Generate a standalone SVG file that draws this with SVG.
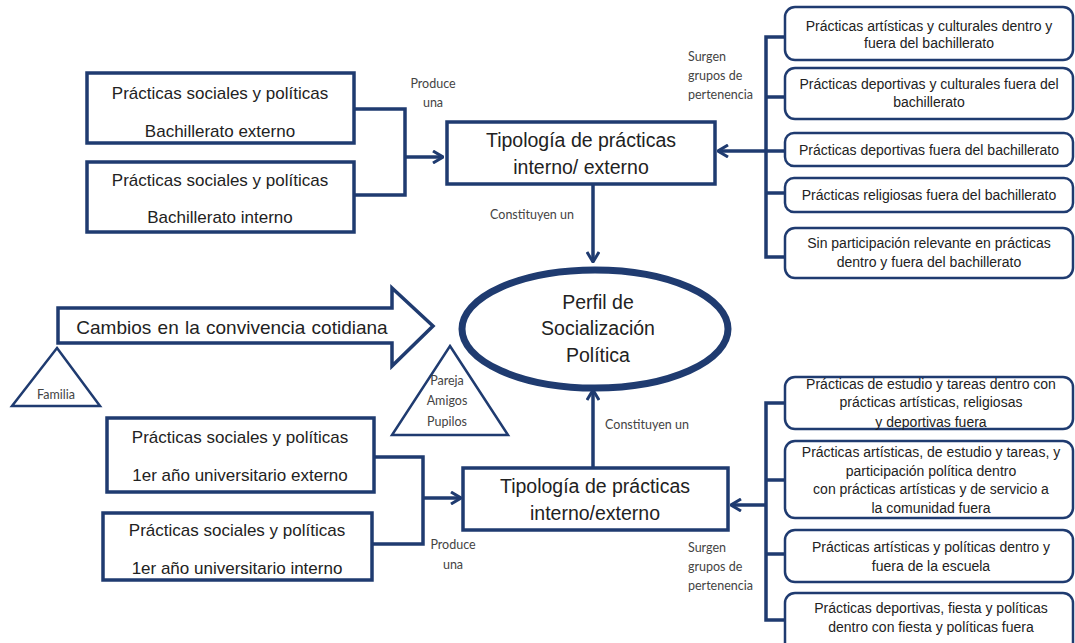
<svg xmlns="http://www.w3.org/2000/svg" width="1075" height="643" viewBox="0 0 1075 643">
<style>
.box{fill:#fff;stroke:#1f3b70;stroke-width:3.5}
.rbox{fill:#fff;stroke:#1f3b70;stroke-width:2.5}
.ln{fill:none;stroke:#1f3b70;stroke-width:3.5}
.t{font-family:"Liberation Sans",Arial,sans-serif;fill:#222;text-anchor:middle}
.m{font-size:17px}
.b{font-size:19.5px}
.s{font-size:14px}
.lb{font-family:Lato,"Open Sans",sans-serif;font-size:12.5px;fill:#444}
.c{text-anchor:middle}
</style>
<defs>
<marker id="ah" viewBox="0 0 12 14" refX="11" refY="7" markerWidth="12" markerHeight="14" markerUnits="userSpaceOnUse" orient="auto">
<path d="M1,1 L11,7 L1,13" fill="none" stroke="#1f3b70" stroke-width="3"/>
</marker>
</defs>
<g id="connectors">
<path class="ln" d="M354,109 H405 V195 H354"/>
<path class="ln" d="M405,157 H443" marker-end="url(#ah)"/>
<path class="ln" d="M593,184 V262" marker-end="url(#ah)"/>
<path class="ln" d="M785,37 H766 V257 H785 M766,97 H785 M766,151 H785 M766,193 H785"/>
<path class="ln" d="M766,151 H718" marker-end="url(#ah)"/>
<path class="ln" d="M374,457 H423 V544 H372"/>
<path class="ln" d="M423,498 H461" marker-end="url(#ah)"/>
<path class="ln" d="M593,468 V390" marker-end="url(#ah)"/>
<path class="ln" d="M785,403 H766 V620 H785 M766,480 H785 M766,554 H785"/>
<path class="ln" d="M766,505 H731" marker-end="url(#ah)"/>
<text class="lb c" x="433" y="88">Produce</text>
<text class="lb c" x="433" y="107">una</text>
<text class="lb c" x="532" y="219">Constituyen un</text>
<text class="lb" x="688" y="61">Surgen</text>
<text class="lb" x="688" y="80">grupos de</text>
<text class="lb" x="688" y="99">pertenencia</text>
<text class="lb c" x="453" y="549">Produce</text>
<text class="lb c" x="453" y="569">una</text>
<text class="lb c" x="647" y="429">Constituyen un</text>
<text class="lb" x="688" y="552">Surgen</text>
<text class="lb" x="688" y="571">grupos de</text>
<text class="lb" x="688" y="590">pertenencia</text>
</g>
<g id="n-bach-ext">
<rect class="box" x="87" y="73" width="267" height="70"/>
<text class="t m" x="220" y="99">Prácticas sociales y políticas</text>
<text class="t m" x="220" y="137">Bachillerato externo</text>
</g>
<g id="n-bach-int">
<rect class="box" x="87" y="162" width="267" height="70"/>
<text class="t m" x="220" y="186">Prácticas sociales y políticas</text>
<text class="t m" x="220" y="223">Bachillerato interno</text>
</g>
<g id="n-tipo-top">
<rect class="box" x="447" y="122" width="268" height="62"/>
<text class="t b" x="581" y="147">Tipología de prácticas</text>
<text class="t b" x="581" y="174">interno/ externo</text>
</g>
<g id="n-r1">
<rect class="rbox" x="785" y="7" width="288" height="53" rx="10"/>
<text class="t s" x="929" y="31">Prácticas artísticas y culturales dentro y</text>
<text class="t s" x="929" y="48">fuera del bachillerato</text>
</g>
<g id="n-r2">
<rect class="rbox" x="785" y="68" width="288" height="51" rx="10"/>
<text class="t s" x="929" y="89">Prácticas deportivas y culturales fuera del</text>
<text class="t s" x="929" y="107">bachillerato</text>
</g>
<g id="n-r3">
<rect class="rbox" x="785" y="133" width="288" height="33" rx="9"/>
<text class="t s" x="929" y="155">Prácticas deportivas fuera del bachillerato</text>
</g>
<g id="n-r4">
<rect class="rbox" x="785" y="178" width="288" height="34" rx="9"/>
<text class="t s" x="929" y="200">Prácticas religiosas fuera del bachillerato</text>
</g>
<g id="n-r5">
<rect class="rbox" x="785" y="228" width="288" height="50" rx="10"/>
<text class="t s" x="929" y="248">Sin participación relevante en prácticas</text>
<text class="t s" x="929" y="267">dentro y fuera del bachillerato</text>
</g>
<g id="n-perfil">
<ellipse cx="595" cy="329" rx="133" ry="59" fill="#fff" stroke="#1f3b70" stroke-width="7"/>
<text class="t b" x="598" y="309">Perfil de</text>
<text class="t b" x="598" y="335">Socialización</text>
<text class="t b" x="598" y="362">Política</text>
</g>
<g id="n-cambios">
<path d="M58,308 H392 V288 L433,326 L392,366 V343 H58 Z" fill="#fff" stroke="#1f3b70" stroke-width="3.5" stroke-linejoin="miter"/>
<text class="t" x="232" y="334" font-size="19px" word-spacing="1">Cambios en la convivencia cotidiana</text>
</g>
<g id="n-familia">
<path d="M57,348 L100,406 H12 Z" fill="#fff" stroke="#1f3b70" stroke-width="2.5"/>
<text class="lb c" x="56" y="399" fill="#333">Familia</text>
</g>
<g id="n-pareja">
<path d="M450,346 L508,435 H392 Z" fill="#fff" stroke="#1f3b70" stroke-width="2.5"/>
<text class="lb c" x="447" y="385" fill="#333">Pareja</text>
<text class="lb c" x="447" y="405" fill="#333">Amigos</text>
<text class="lb c" x="447" y="426" fill="#333">Pupilos</text>
</g>
<g id="n-uni-ext">
<rect class="box" x="107" y="418" width="267" height="74"/>
<text class="t m" x="240" y="443">Prácticas sociales y políticas</text>
<text class="t m" x="240" y="481">1er año universitario externo</text>
</g>
<g id="n-uni-int">
<rect class="box" x="103" y="513" width="269" height="67"/>
<text class="t m" x="237" y="536">Prácticas sociales y políticas</text>
<text class="t m" x="237" y="574">1er año universitario interno</text>
</g>
<g id="n-tipo-bot">
<rect class="box" x="463" y="468" width="265" height="62"/>
<text class="t b" x="595" y="493">Tipología de prácticas</text>
<text class="t b" x="595" y="520">interno/externo</text>
</g>
<g id="n-s1">
<rect class="rbox" x="785" y="377" width="288" height="52" rx="10"/>
<text class="t s" x="931" y="389">Prácticas de estudio y tareas dentro con</text>
<text class="t s" x="931" y="407">prácticas  artísticas, religiosas</text>
<text class="t s" x="931" y="427">y deportivas fuera</text>
</g>
<g id="n-s2">
<rect class="rbox" x="785" y="441" width="288" height="77" rx="10"/>
<text class="t s" x="931" y="457">Prácticas artísticas, de estudio y tareas, y</text>
<text class="t s" x="931" y="476">participación política dentro</text>
<text class="t s" x="931" y="494">con prácticas artísticas y de servicio a</text>
<text class="t s" x="931" y="513">la comunidad  fuera</text>
</g>
<g id="n-s3">
<rect class="rbox" x="785" y="530" width="288" height="52" rx="10"/>
<text class="t s" x="931" y="552">Prácticas artísticas y políticas dentro y</text>
<text class="t s" x="931" y="571">fuera de la escuela</text>
</g>
<g id="n-s4">
<rect class="rbox" x="785" y="593" width="288" height="60" rx="10"/>
<text class="t s" x="931" y="613">Prácticas deportivas, fiesta y políticas</text>
<text class="t s" x="931" y="632">dentro con fiesta y políticas fuera</text>
</g>
</svg>
